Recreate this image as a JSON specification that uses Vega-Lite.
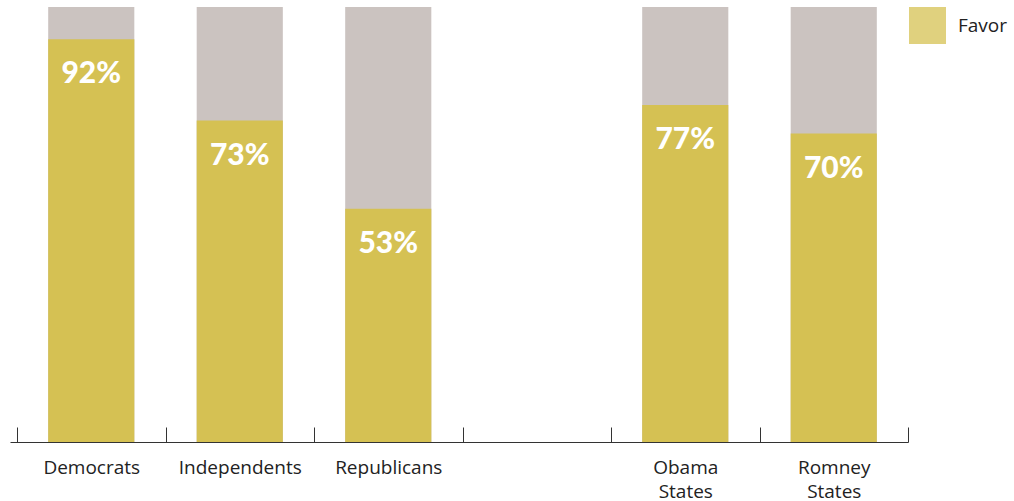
{
  "$schema": "https://vega.github.io/schema/vega-lite/v6.json",
  "width": 898,
  "height": 435,
  "autosize": {"type": "none"},
  "padding": {"left": 10, "top": 7, "right": 106, "bottom": 59},
  "background": "white",
  "config": {"view": {"stroke": null}, "font": "Lato"},
  "data": {
    "values": [
      {"group": "Democrats", "favor": 0.926, "label": "92%", "total": 1, "series": "Favor"},
      {"group": "Independents", "favor": 0.739, "label": "73%", "total": 1, "series": "Favor"},
      {"group": "Republicans", "favor": 0.536, "label": "53%", "total": 1, "series": "Favor"},
      {"group": "Obama States", "favor": 0.775, "label": "77%", "total": 1, "series": "Favor"},
      {"group": "Romney States", "favor": 0.709, "label": "70%", "total": 1, "series": "Favor"}
    ]
  },
  "encoding": {
    "x": {
      "field": "group",
      "type": "nominal",
      "sort": null,
      "scale": {"domain": ["Democrats", "Independents", "Republicans", "blank", "Obama States", "Romney States"], "paddingInner": 0, "paddingOuter": 0.0236, "align": 1},
      "axis": {
        "title": null,
        "labelAngle": 0,
        "labelExpr": "datum.label == 'blank' ? '' : (indexof(datum.label, 'States') > 0 ? split(datum.label, ' ') : datum.label)",
        "labelFont": "Open Sans",
        "labelFontSize": 19,
        "labelColor": "#222222",
        "labelLineHeight": 24,
        "labelPadding": 31,
        "tickBand": "extent",
        "tickSize": -15,
        "tickColor": "#333333",
        "domainColor": "#333333",
        "tickWidth": 1,
        "domainWidth": 1
      }
    }
  },
  "layer": [
    {
      "mark": {"type": "bar", "color": "#cbc3c0", "width": {"band": 0.58}},
      "encoding": {
        "y": {"field": "total", "type": "quantitative", "scale": {"domain": [0, 1]}, "axis": null}
      }
    },
    {
      "mark": {"type": "bar", "width": {"band": 0.58}},
      "encoding": {
        "y": {"field": "favor", "type": "quantitative", "scale": {"domain": [0, 1]}, "axis": null},
        "color": {
          "field": "series",
          "type": "nominal",
          "scale": {"domain": ["Favor"], "range": ["#d5c153"]},
          "legend": {
            "title": null,
            "orient": "none",
            "legendX": 899,
            "legendY": 0,
            "symbolType": "square",
            "symbolSize": 1369,
            "symbolOpacity": 0.75,
            "symbolStrokeWidth": 0,
            "labelFont": "Open Sans",
            "labelFontSize": 19,
            "labelColor": "#222222",
            "labelOffset": 12
          }
        }
      }
    },
    {
      "mark": {"type": "text", "color": "white", "font": "Lato", "fontWeight": 900, "fontSize": 30, "baseline": "alphabetic", "dy": 44},
      "encoding": {
        "y": {"field": "favor", "type": "quantitative", "scale": {"domain": [0, 1]}},
        "text": {"field": "label", "type": "nominal"},
        "detail": {"value": 1}
      }
    }
  ]
}
